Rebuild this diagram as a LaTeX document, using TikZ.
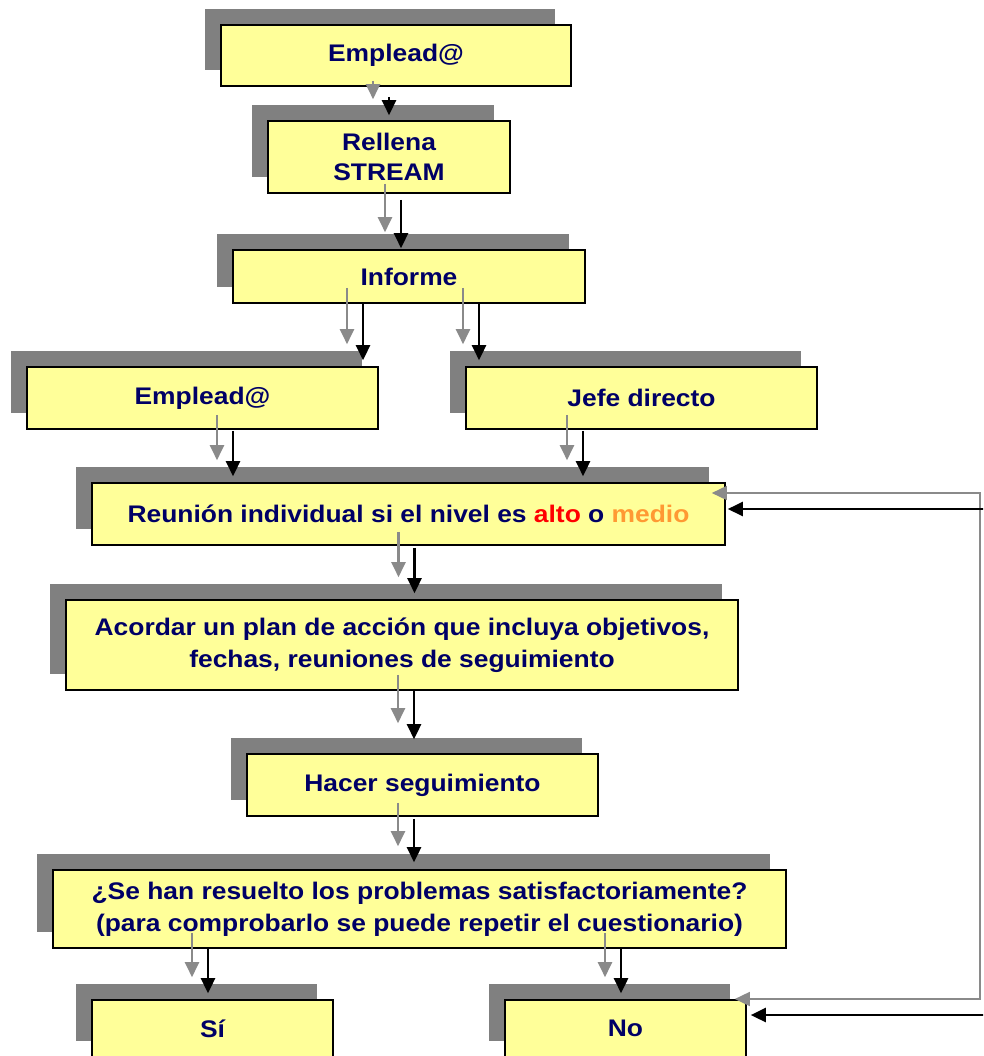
\documentclass[tikz,border=0pt]{standalone}
\usepackage{fontspec}
\setmainfont{Liberation Sans}[FakeStretch=1.1]
\usetikzlibrary{arrows.meta,shadows}
\definecolor{boxyellow}{HTML}{FFFF99}
\definecolor{navy}{HTML}{000066}
\definecolor{shadowgray}{HTML}{808080}
\definecolor{arrgray}{HTML}{8A8A8A}
\definecolor{altored}{HTML}{FF0000}
\definecolor{medioorange}{HTML}{FF9933}
\tikzset{
  box/.style={draw=black, line width=1.6pt, fill=boxyellow, inner sep=0pt,
    align=center, text=navy, font=\bfseries\fontsize{24}{32}\selectfont,
    general shadow={fill=shadowgray, shadow xshift=-16pt, shadow yshift=16pt}},
  barr/.style={draw=black, line width=2.6pt, -{Triangle[length=15pt,width=14pt]}},
  garr/.style={draw=arrgray, line width=2.1pt, -{Triangle[length=15pt,width=14pt]},
    transform canvas={xshift=-16pt, yshift=16pt}}
}
\newcommand\twoarrows[2]{%
  \draw[garr] #1 -- #2;
  \draw[barr] #1 -- #2;}
\begin{document}
\begin{tikzpicture}[x=1pt, y=-1pt]
\useasboundingbox (0,0) rectangle (983,1056);
\clip (0,0) rectangle (983,1056);

% boxes
\node[box, minimum width=350pt, minimum height=61pt] (emp1) at (396,55.5) {Emplead@};
\node[box, minimum width=242pt, minimum height=72pt, font=\bfseries\fontsize{24}{30}\selectfont] (rell) at (389,157) {Rellena\\STREAM};
\node[box, minimum width=352pt, minimum height=53pt] (inf) at (409,276.5) {Informe};
\node[box, minimum width=351pt, minimum height=62pt] (emp2) at (202.5,398) {Emplead@};
\node[box, minimum width=351pt, minimum height=62pt] (jefe) at (641.5,398) {Jefe directo};
\node[box, minimum width=633pt, minimum height=62pt] (reun) at (408.5,514)
  {Reunión individual si el nivel es \textcolor{altored}{alto} o \textcolor{medioorange}{medio}};
\node[box, minimum width=672pt, minimum height=90pt] (acor) at (402,645)
  {Acordar un plan de acción que incluya objetivos,\\fechas, reuniones de seguimiento};
\node[box, minimum width=351pt, minimum height=62pt] (hacer) at (422.5,785) {Hacer seguimiento};
\node[box, minimum width=733pt, minimum height=78pt] (se) at (419.5,909)
  {¿Se han resuelto los problemas satisfactoriamente?\\(para comprobarlo se puede repetir el cuestionario)};
\node[box, minimum width=241pt, minimum height=57pt] (si) at (212.5,1028.5) {Sí};
\node[box, minimum width=241pt, minimum height=57pt] (no) at (625.5,1028.5) {No};

% arrows (gray shadow + black)
\twoarrows{([xshift=-7pt,yshift=-10pt]emp1.south)}{([yshift=5pt]rell.north)}
\twoarrows{([xshift=12pt,yshift=-6pt]rell.south)}{([xshift=-8pt,yshift=1pt]inf.north)}
\twoarrows{([xshift=-46pt]inf.south)}{([xshift=160.5pt,yshift=6pt]emp2.north)}
\twoarrows{([xshift=70pt]inf.south)}{([xshift=-162.5pt,yshift=6pt]jefe.north)}
\twoarrows{([xshift=30.5pt,yshift=-1pt]emp2.south)}{([xshift=-175.5pt,yshift=6pt]reun.north)}
\twoarrows{([xshift=-58.5pt,yshift=-1pt]jefe.south)}{([xshift=174.5pt,yshift=6pt]reun.north)}
\twoarrows{([xshift=6pt,yshift=-2pt]reun.south)}{([xshift=12.5pt,yshift=6pt]acor.north)}
\twoarrows{([xshift=12pt]acor.south)}{([xshift=-8.5pt,yshift=14pt]hacer.north)}
\twoarrows{([xshift=-8.5pt,yshift=-2pt]hacer.south)}{([xshift=-5.5pt,yshift=7pt]se.north)}
\twoarrows{([xshift=-211.5pt]se.south)}{([xshift=-4.5pt,yshift=6pt]si.north)}
\twoarrows{([xshift=201.5pt]se.south)}{([xshift=-4.5pt,yshift=6pt]no.north)}

% feedback loop
\coordinate (looptop) at (996,509);
\coordinate (loopbot) at (996,1015);
\draw[garr, line width=1.6pt, {Triangle[length=15pt,width=14pt]}-{Triangle[length=15pt,width=14pt]}]
  ([xshift=2pt,yshift=5pt]reun.east) -- (looptop) -- (loopbot) -- ([xshift=4pt,yshift=13.5pt]no.east);
\draw[barr, {Triangle[length=15pt,width=14pt]}-{Triangle[length=15pt,width=14pt]}]
  ([xshift=2pt,yshift=5pt]reun.east) -- (looptop) -- (loopbot) -- ([xshift=4pt,yshift=13.5pt]no.east);
\end{tikzpicture}
\end{document}
